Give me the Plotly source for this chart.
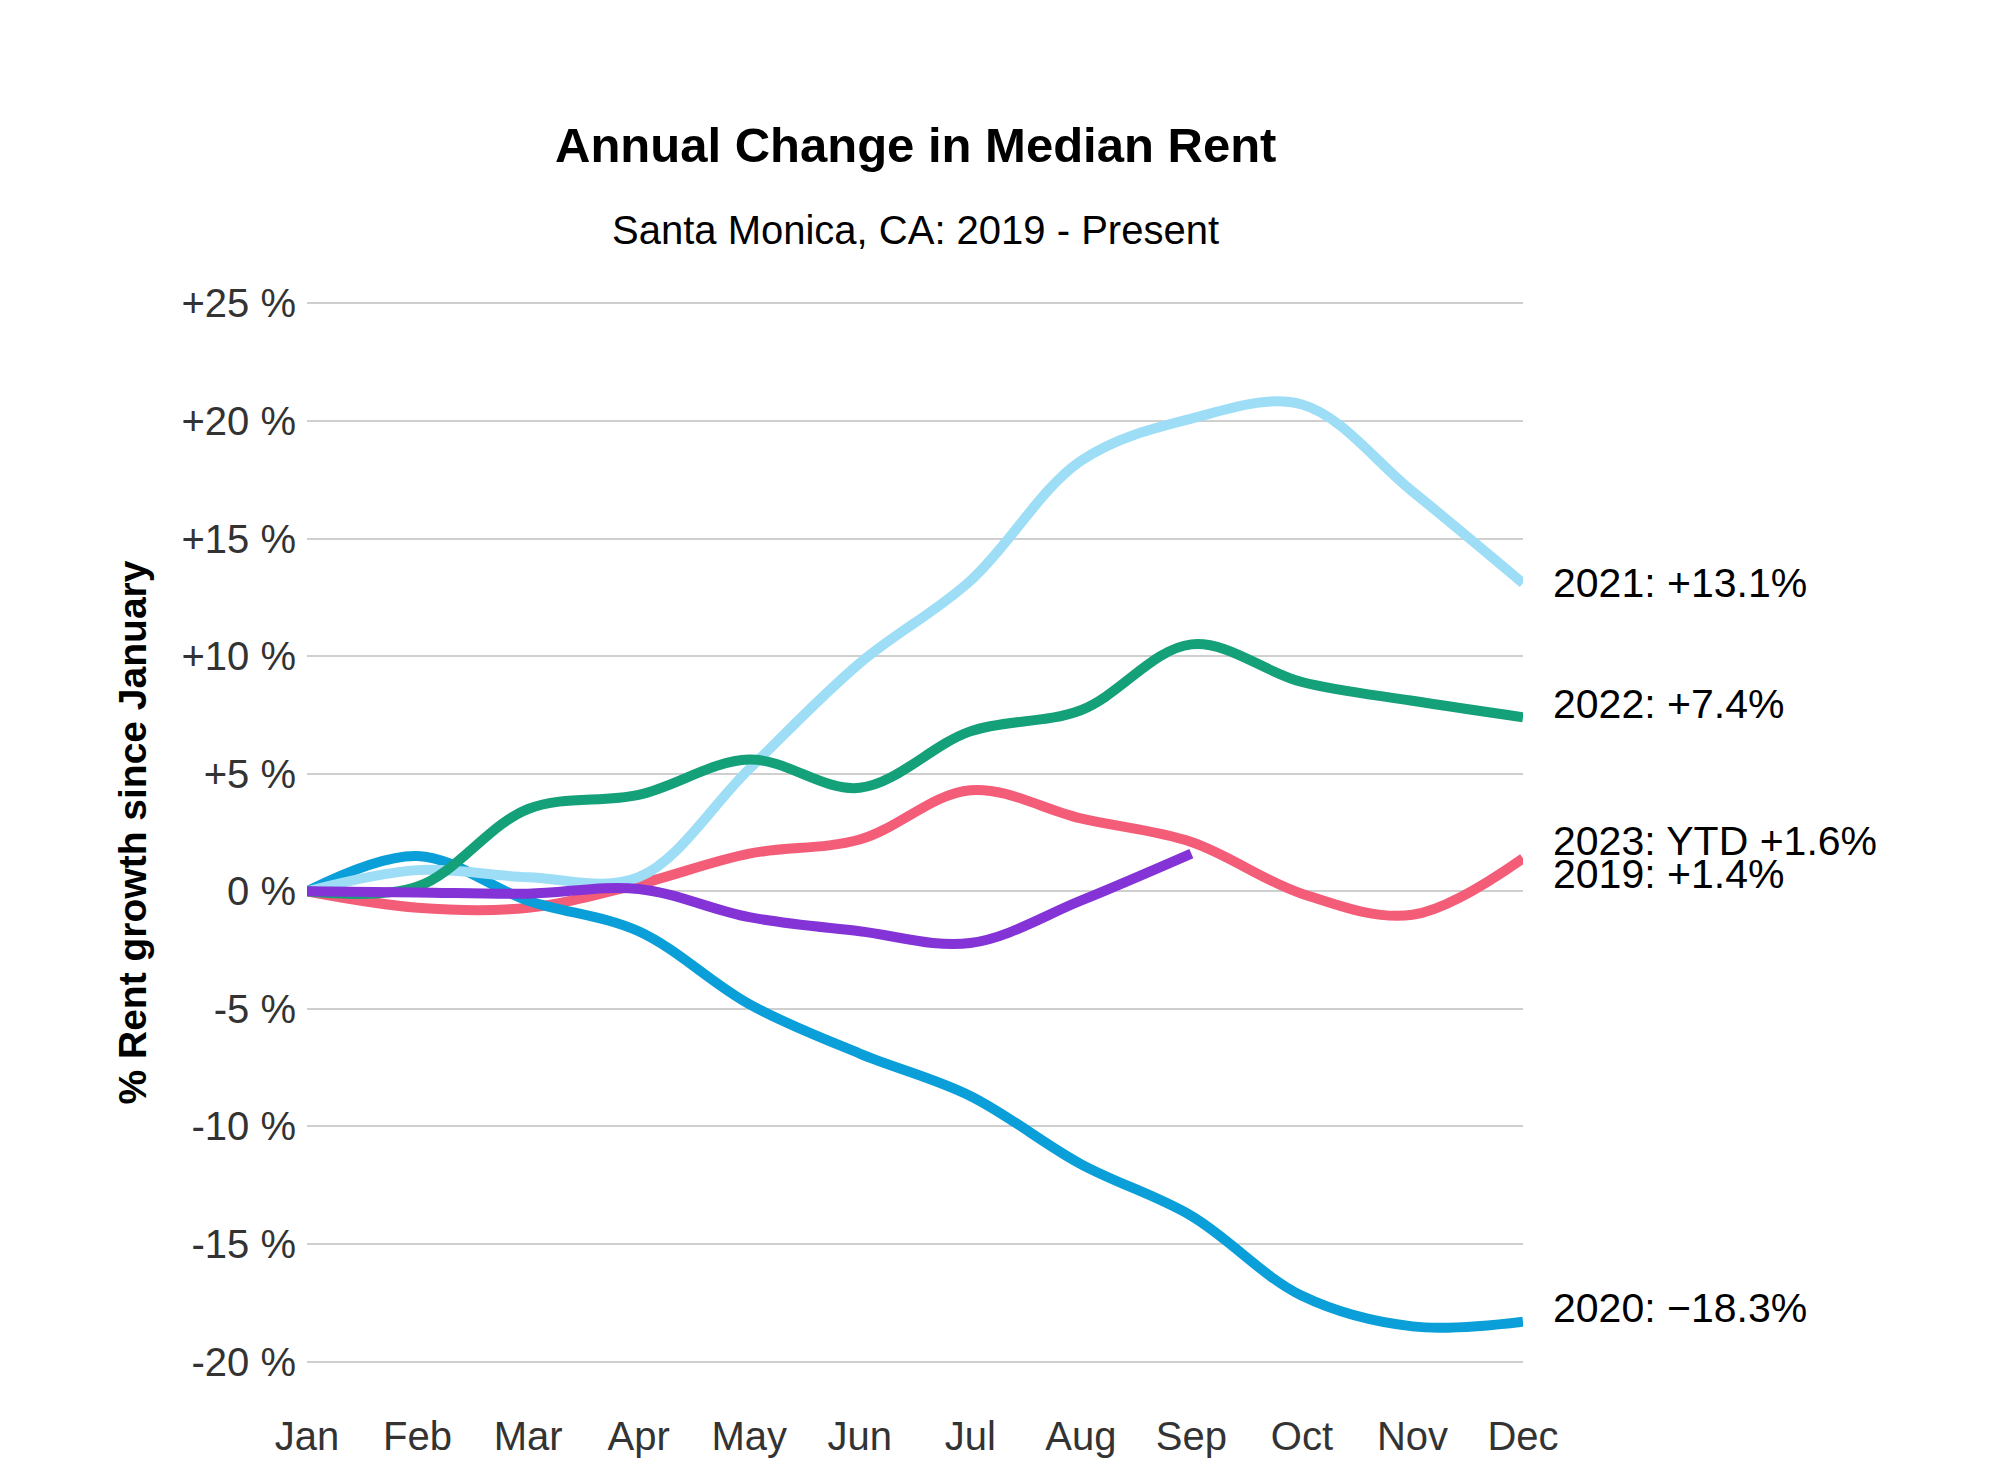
import plotly.graph_objects as go

months = ["Jan", "Feb", "Mar", "Apr", "May", "Jun", "Jul", "Aug", "Sep", "Oct", "Nov", "Dec"]

y2019 = [0, -0.7, -0.7, 0.3, 1.6, 2.2, 4.3, 3.1, 2.1, -0.1, -1.0, 1.4]
y2020 = [0, 1.5, -0.4, -1.7, -4.8, -6.9, -8.7, -11.6, -13.8, -17.2, -18.5, -18.3]
y2021 = [0, 0.9, 0.6, 0.6, 5.2, 9.7, 13.2, 18.3, 20.1, 20.7, 17.0, 13.1]
y2022 = [0, 0.2, 3.5, 4.1, 5.6, 4.4, 6.8, 7.7, 10.5, 8.9, 8.1, 7.4]
y2023 = [0, -0.05, -0.1, 0.1, -1.1, -1.7, -2.2, -0.4, 1.6]

labels = ["2019: +1.4%", "2020: \u221218.3%", "2021: +13.1%", "2022: +7.4%", "2023: YTD +1.6%"]
colors = ["#F45D78", "#0A9FD8", "#9DDDF6", "#14A078", "#8333D6"]
label_shift = [-16, 14, 0, 13, 13]

ytickvals = [-20, -15, -10, -5, 0, 5, 10, 15, 20, 25]
yticktext = ["-20 %", "-15 %", "-10 %", "-5 %", "0 %", "+5 %", "+10 %", "+15 %", "+20 %", "+25 %"]

series = [y2019, y2020, y2021, y2022, y2023]
FONT = "Liberation Sans, Arial, Helvetica, sans-serif"

fig = go.Figure()
for name, ys, c in zip(["2019", "2020", "2021", "2022", "2023"], series, colors):
    fig.add_trace(go.Scatter(
        x=list(range(len(ys))), y=ys, mode="lines", name=name,
        line=dict(color=c, width=10, shape="spline", smoothing=1.0),
        showlegend=False,
    ))

annotations = []
for lab, ys, sh in zip(labels, series, label_shift):
    annotations.append(dict(
        x=11, y=ys[-1], xref="x", yref="y", text=lab, showarrow=False,
        xanchor="left", yanchor="middle", xshift=28, yshift=sh,
        font=dict(family=FONT, size=41, color="#000000"),
    ))

annotations.append(dict(
    x=0.5, y=1.1468, xref="paper", yref="paper", showarrow=False,
    text="<b>Annual Change in Median Rent</b>", xanchor="center", yanchor="middle",
    font=dict(family=FONT, size=49, color="#000000"),
))
annotations.append(dict(
    x=0.5, y=1.0668, xref="paper", yref="paper", showarrow=False,
    text="Santa Monica, CA: 2019 - Present", xanchor="center", yanchor="middle",
    font=dict(family=FONT, size=40, color="#000000"),
))
annotations.append(dict(
    x=-0.1439, y=0.5, xref="paper", yref="paper", showarrow=False,
    text="<b>% Rent growth since January</b>", textangle=-90,
    xanchor="center", yanchor="middle",
    font=dict(family=FONT, size=39, color="#000000"),
))

fig.update_layout(
    width=2000, height=1484, autosize=False,
    margin=dict(l=307, r=477, t=301, b=120),
    paper_bgcolor="white", plot_bgcolor="white",
    annotations=annotations,
    xaxis=dict(
        range=[0, 11], tickmode="array", tickvals=list(range(12)), ticktext=months,
        showgrid=False, zeroline=False, showline=False, ticks="",
        tickfont=dict(family=FONT, size=40, color="#333333"),
        ticklabelstandoff=45, fixedrange=True,
    ),
    yaxis=dict(
        range=[-20.1, 25.1], tickmode="array", tickvals=ytickvals, ticktext=yticktext,
        showgrid=True, gridcolor="#CFCFCF", gridwidth=2,
        zeroline=False, showline=False, ticks="",
        tickfont=dict(family=FONT, size=40, color="#333333"),
        ticklabelstandoff=10, fixedrange=True,
    ),
)

fig.write_html("out.html", config={"displayModeBar": False},
               post_script="document.body.style.margin='0';")
